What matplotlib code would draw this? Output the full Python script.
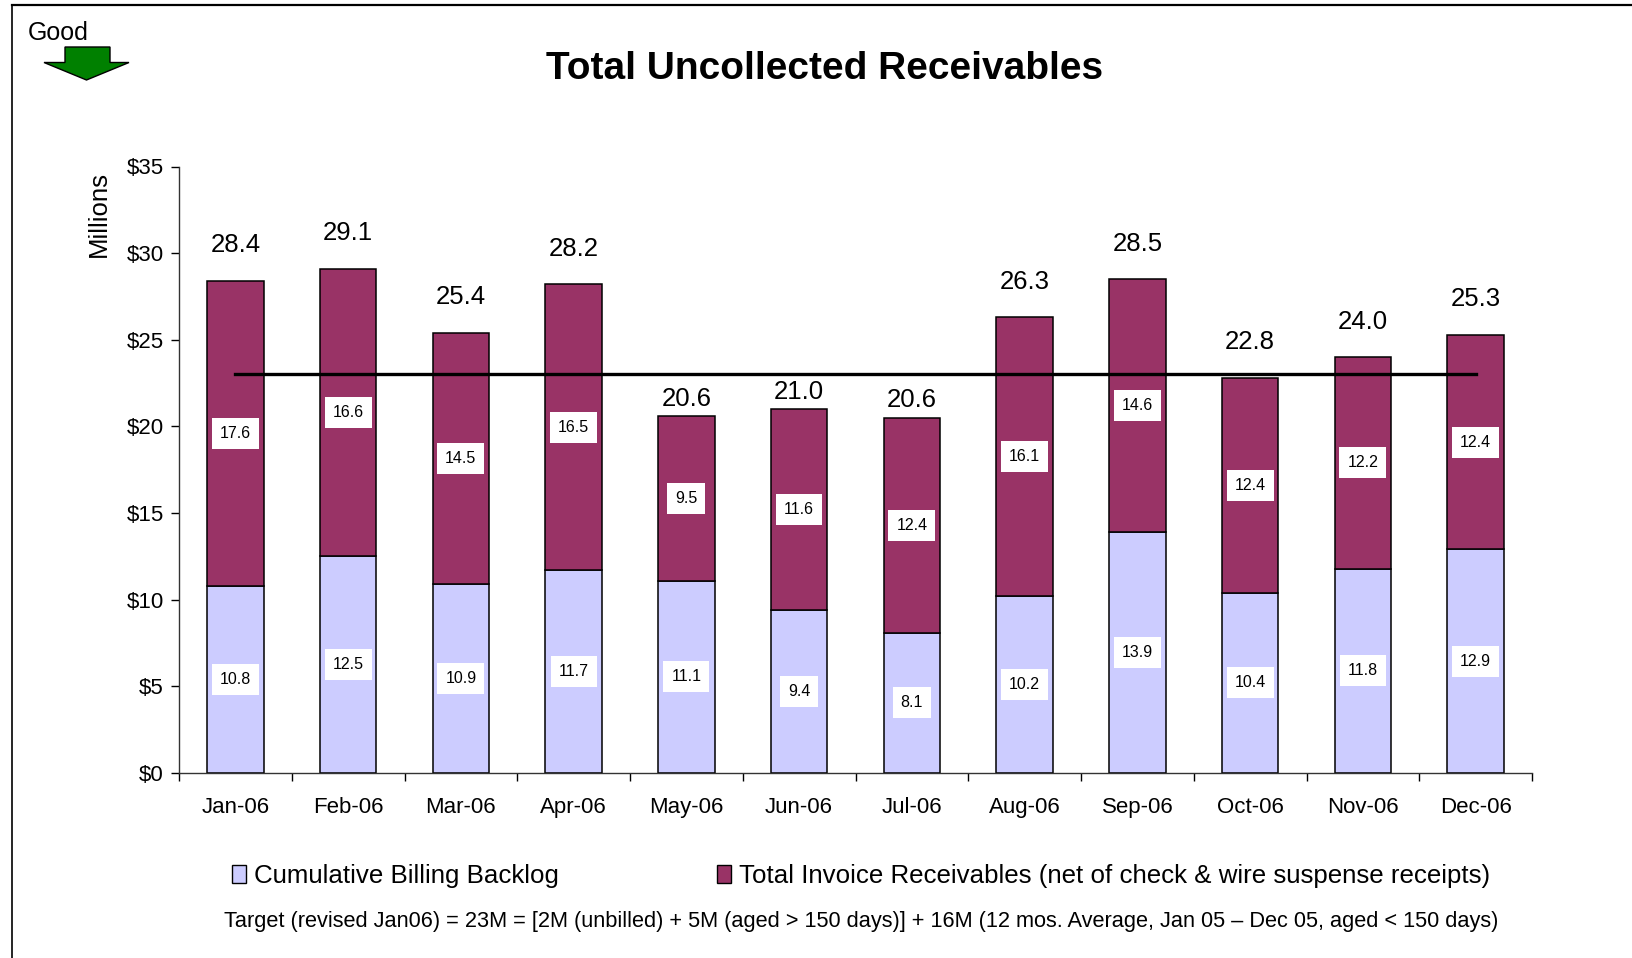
import matplotlib
matplotlib.use("Agg")
import matplotlib.pyplot as plt
from matplotlib.patches import Polygon, Patch
from matplotlib.lines import Line2D
import numpy as np

plt.rcParams['font.family'] = ['Liberation Sans', 'DejaVu Sans']

months = ["Jan-06", "Feb-06", "Mar-06", "Apr-06", "May-06", "Jun-06",
          "Jul-06", "Aug-06", "Sep-06", "Oct-06", "Nov-06", "Dec-06"]
backlog = [10.8, 12.5, 10.9, 11.7, 11.1, 9.4, 8.1, 10.2, 13.9, 10.4, 11.8, 12.9]
receivables = [17.6, 16.6, 14.5, 16.5, 9.5, 11.6, 12.4, 16.1, 14.6, 12.4, 12.2, 12.4]
totals = [28.4, 29.1, 25.4, 28.2, 20.6, 21.0, 20.6, 26.3, 28.5, 22.8, 24.0, 25.3]
target = 23
yticks = [0, 5, 10, 15, 20, 25, 30, 35]

W, H = 1632, 958
fig = plt.figure(figsize=(W / 100, H / 100), dpi=100)

def fx(px):
    return px / W

def fy(py):
    return 1 - py / H

ax = fig.add_axes([fx(179), fy(773), fx(1532) - fx(179), fy(166.5) - fy(773)])

x = np.arange(len(months))
c_back = "#CCCCFF"
c_rec = "#993366"
ax.bar(x, backlog, width=0.5, color=c_back, edgecolor="black", linewidth=1.1, zorder=2)
ax.bar(x, receivables, width=0.5, bottom=backlog, color=c_rec, edgecolor="black", linewidth=1.1, zorder=2)

ax.plot([x[0], x[-1]], [target, target], color="black", lw=2.4, zorder=3)

box = dict(boxstyle="square,pad=0.5", facecolor="white", edgecolor="none")
for i in range(len(months)):
    b = backlog[i]
    r = receivables[i]
    ax.text(x[i], b / 2, f"{b:.1f}", ha="center", va="center", fontsize=11.5, bbox=box, zorder=4)
    ax.text(x[i], b + r / 2, f"{r:.1f}", ha="center", va="center", fontsize=11.5, bbox=box, zorder=4)
    # labels that would sit on the target line are moved closer to the bar top
    on_line = abs(totals[i] + 2.2 - target) < 1.2
    off = 12.5 if on_line else 25.5
    ax.annotate(f"{totals[i]:.1f}", xy=(x[i], b + r), xytext=(0, off), textcoords="offset points",
                ha="center", va="center", fontsize=18.5, zorder=4)

ax.set_xlim(-0.5, len(months) - 0.5)
ax.set_ylim(0, 35)
ax.set_yticks(yticks)
ax.set_yticklabels([f"${v}" for v in yticks], fontsize=16)
ax.set_xticks(np.arange(-0.5, len(months), 1.0))
ax.set_xticklabels([])
ax.set_xticks(x, minor=True)
ax.set_xticklabels(months, minor=True, fontsize=16)
ax.tick_params(axis="x", which="major", length=6, direction="out", width=1)
ax.tick_params(axis="x", which="minor", length=0, pad=17)
ax.tick_params(axis="y", length=6, direction="out", width=1, pad=5)
for s in ["top", "right"]:
    ax.spines[s].set_visible(False)
for s in ["left", "bottom"]:
    ax.spines[s].set_linewidth(1)
    ax.spines[s].set_color("#333333")

fig.text(fx(825), fy(69), "Total Uncollected Receivables", ha="center", va="center",
         fontsize=28, fontweight="bold")
fig.text(fx(99), fy(214), "Millions", rotation=90, ha="center", va="center", fontsize=18.5)
fig.text(fx(28), fy(33), "Good", ha="left", va="center", fontsize=18)

arrow = Polygon([(fx(65), fy(47)), (fx(110), fy(47)), (fx(110), fy(62.5)), (fx(129), fy(62.5)),
                 (fx(86.5), fy(80)), (fx(44), fy(62.5)), (fx(65), fy(62.5))],
                closed=True, transform=fig.transFigure, facecolor="#008000",
                edgecolor="black", linewidth=1)
fig.patches.append(arrow)

# frame border
fig.add_artist(Line2D([fx(12), fx(12)], [fy(5), 0], transform=fig.transFigure, color="black", lw=1.2))
fig.add_artist(Line2D([fx(12), 1], [fy(5), fy(5)], transform=fig.transFigure, color="black", lw=1.6))

handles = [Patch(facecolor=c_back, edgecolor="black", linewidth=1),
           Patch(facecolor=c_rec, edgecolor="black", linewidth=1)]
fig.legend(handles, ["Cumulative Billing Backlog",
                     "Total Invoice Receivables (net of check & wire suspense receipts)"],
           loc="center", bbox_to_anchor=(fx(861), fy(876)), ncol=2, frameon=False,
           fontsize=18.6, handlelength=0.55, handleheight=0.75, handletextpad=0.3,
           columnspacing=6.1)

fig.text(fx(861), fy(922),
         "Target (revised Jan06) = 23M = [2M (unbilled) + 5M (aged > 150 days)] + 16M (12 mos. Average, Jan 05 \u2013 Dec 05, aged < 150 days)",
         ha="center", va="center", fontsize=15.7)

fig.savefig("out.png", dpi=100)
